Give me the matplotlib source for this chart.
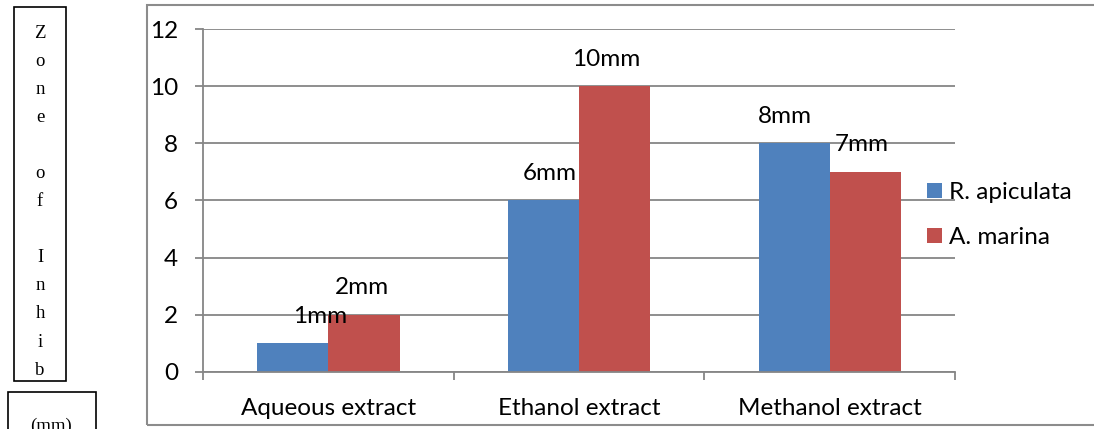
import matplotlib.pyplot as plt
import matplotlib.patches as patches
import numpy as np

# extracts and zone of inhibition (mm)
categories = ['Aqueous extract', 'Ethanol extract', 'Methanol extract']
r_apiculata = [1, 6, 8]
a_marina = [2, 10, 7]
series_names = ['R. apiculata', 'A. marina']
ylabel_text = 'Zone of Inhib'

blue = '#4F81BD'
red = '#C0504D'
grid_grey = '#868686'
font = ['Lato', 'DejaVu Sans']
fs = 17.5

fig = plt.figure(figsize=(10.94, 4.29), dpi=100)
ax = fig.add_axes([0.1856, 0.1329, 0.6874, 0.7995])

x = np.arange(len(categories))
w = 0.284
b1 = ax.bar(x - w / 2, r_apiculata, w, color=blue, label=series_names[0])
b2 = ax.bar(x + w / 2, a_marina, w, color=red, label=series_names[1])

# data labels (Excel labels were nudged by hand, offsets in pixels)
dx_blue = [27, 6, -9]
dx_red = [-2, -8, -4]
for bars, vals, dxs in [(b1, r_apiculata, dx_blue), (b2, a_marina, dx_red)]:
    for bar, v, dx in zip(bars, vals, dxs):
        ax.annotate(f'{v}mm', (bar.get_x() + bar.get_width() / 2, v),
                    xytext=(dx, 27), textcoords='offset pixels',
                    ha='center', va='center', fontsize=fs, family=font)

ax.set_xlim(-0.5, 2.5)
ax.set_ylim(0, 12)
ax.set_yticks(range(0, 13, 2))
ax.set_xticks(x)
ax.set_xticklabels(categories, fontsize=fs, family=font)
ax.set_xticks([-0.5, 0.5, 1.5, 2.5], minor=True)
for lbl in ax.get_yticklabels():
    lbl.set_fontsize(fs)
    lbl.set_family(font)

ax.yaxis.grid(True, color=grid_grey, linewidth=1.3)
ax.set_axisbelow(True)
for s in ['top', 'right']:
    ax.spines[s].set_visible(False)
for s in ['left', 'bottom']:
    ax.spines[s].set_color(grid_grey)
    ax.spines[s].set_linewidth(1.3)
ax.tick_params(axis='y', length=6, width=1.3, color=grid_grey, pad=12)
ax.tick_params(axis='x', which='major', length=0, pad=19)
ax.tick_params(axis='x', which='minor', length=6, width=1.3, color=grid_grey)

fig.legend(handles=[b1, b2], labels=series_names, loc='center left',
           bbox_to_anchor=(927 / 1094, 1 - 215 / 429), frameon=False,
           prop={'family': font, 'size': fs}, handlelength=0.6, handleheight=0.6,
           handletextpad=0.3, labelspacing=1.0, borderpad=0, borderaxespad=0)

# outer chart frame (right side runs off the page)
fig.patches.append(patches.Rectangle((147 / 1094, 4 / 429), 1.0, 420 / 429,
                                     transform=fig.transFigure, fill=False,
                                     edgecolor='#8c8c8c', linewidth=1.5))

# y label drawn as stacked letters inside a text box
fig.patches.append(patches.Rectangle((14 / 1094, 48 / 429), 52 / 1094, 374 / 429,
                                     transform=fig.transFigure, fill=False,
                                     edgecolor='black', linewidth=1.2))
for i, ch in enumerate(ylabel_text):
    fig.text(40 / 1094, 1 - (33 + 28.1 * i) / 429, ch, ha='center', va='center',
             fontsize=13.5, family='Liberation Serif')

fig.patches.append(patches.Rectangle((8 / 1094, -0.1), 88 / 1094, 0.1 + 37 / 429,
                                     transform=fig.transFigure, fill=False,
                                     edgecolor='black', linewidth=1.2))
fig.text(51 / 1094, 1 - 426 / 429, '(mm)', ha='center', va='center',
         fontsize=13.5, family='Liberation Serif')

fig.savefig('out.png', dpi=100)
